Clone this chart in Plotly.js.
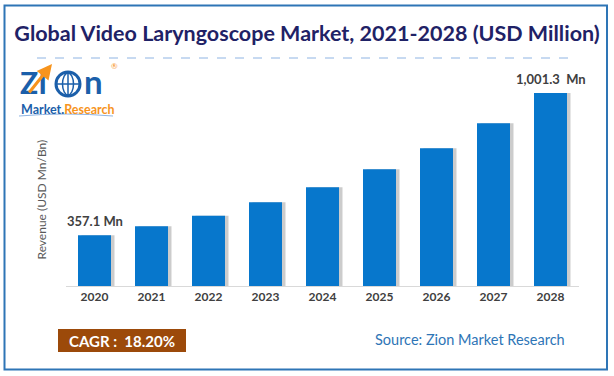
<!DOCTYPE html>
<html>
<head>
<meta charset="utf-8">
<script src="https://cdn.plot.ly/plotly-3.0.1.min.js"></script>
<style>html,body{margin:0;padding:0;background:#fff;}#chart{width:614px;height:376px;}</style>
</head>
<body>
<div id="chart"></div>
<script>
// ---- data ----
const years = ['2020','2021','2022','2023','2024','2025','2026','2027','2028'];
const revenue = [357.1, 397.9, 445.9, 506.5, 574.4, 655.9, 751.0, 864.1, 1001.3];
const labelYears = ['2020', '2028'];
const labelTexts = ['357.1 Mn', '1,001.3&nbsp; Mn'];
const labelValues = [357.1, 1001.3];

// ---- layout helpers (pixel -> paper) ----
const W = 614, H = 376;
const M = {l: 66, r: 35, t: 80, b: 90};
const PW = W - M.l - M.r, PH = H - M.t - M.b;
const px = x => (x - M.l) / PW;
const py = y => (H - M.b - y) / PH;
const CAT = PW / years.length;          // pixels per category
const BARW = 33 / CAT;                   // bar width in category units

const FONT = 'Lato, "Open Sans", sans-serif';
const BLUE = '#1b5faa', ORANGE = '#f7941d';

const shadow = {
  type: 'bar', x: years, y: revenue,
  width: BARW, offset: -BARW / 2 + 3.5 / CAT,
  marker: {color: 'rgba(110,110,110,0.35)'},
  hoverinfo: 'skip'
};
const trace = {
  type: 'bar', x: years, y: revenue,
  width: BARW, offset: -BARW / 2,
  marker: {color: '#0777cc'},
  hoverinfo: 'x+y'
};

const annotations = [];
labelYears.forEach((yr, i) => {
  annotations.push({
    x: years.indexOf(yr), y: labelValues[i], xref: 'x', yref: 'y',
    text: labelTexts[i], showarrow: false, yanchor: 'bottom', yshift: 4,
    font: {family: FONT, size: 13, color: '#404040', weight: 'bold'}
  });
});
// y-axis title
annotations.push({
  xref: 'paper', yref: 'paper', x: px(40.5), y: py(200),
  text: 'Revenue (USD Mn/Bn)', textangle: -90, showarrow: false,
  xanchor: 'center', yanchor: 'middle',
  font: {family: FONT, size: 12, color: '#595959'}
});
// CAGR
annotations.push({
  xref: 'paper', yref: 'paper', x: px(122), y: py(341),
  text: 'CAGR :&nbsp; 18.20%', showarrow: false, xanchor: 'center', yanchor: 'middle',
  font: {family: FONT, size: 15, color: '#ffffff', weight: 'bold'}
});
// Source
annotations.push({
  xref: 'paper', yref: 'paper', x: px(469.5), y: py(339),
  text: 'Source: Zion Market Research', showarrow: false, xanchor: 'center', yanchor: 'middle',
  font: {family: FONT, size: 14.5, color: '#2e75b6'}
});
// Logo pieces
annotations.push({
  xref: 'paper', yref: 'paper', x: px(18), y: py(82),
  text: 'ZI', showarrow: false, xanchor: 'left', yanchor: 'middle',
  font: {family: FONT, size: 30, color: BLUE, weight: 'bold'}
});
annotations.push({
  xref: 'paper', yref: 'paper', x: px(82), y: py(81),
  text: 'n', showarrow: false, xanchor: 'left', yanchor: 'middle',
  font: {family: FONT, size: 33, color: BLUE, weight: 'bold'}
});
annotations.push({
  xref: 'paper', yref: 'paper', x: px(114), y: py(66),
  text: '®', showarrow: false, xanchor: 'center', yanchor: 'middle',
  font: {family: FONT, size: 8, color: ORANGE}
});
annotations.push({
  xref: 'paper', yref: 'paper', x: px(52), y: py(64),
  ax: -24, ay: 30, text: '', showarrow: true, arrowhead: 2, arrowsize: 1,
  arrowwidth: 3, arrowcolor: ORANGE
});
annotations.push({
  xref: 'paper', yref: 'paper', x: px(19), y: py(109),
  text: "<span style='color:" + BLUE + "'>Market</span>.<span style='color:" + ORANGE + "'>Research</span>",
  showarrow: false, xanchor: 'left', yanchor: 'middle',
  font: {family: FONT, size: 12.5, color: BLUE, weight: 'bold'}
});

const shapes = [
  // outer border
  {type: 'rect', xref: 'paper', yref: 'paper', x0: px(4.5), x1: px(607), y0: py(5.5), y1: py(369.5),
   line: {color: '#2e75b6', width: 2}, fillcolor: 'rgba(0,0,0,0)', layer: 'below'},
  // dashed line under title
  {type: 'line', xref: 'paper', yref: 'paper', x0: px(37), x1: px(570), y0: py(58), y1: py(58),
   line: {color: '#8fb4e3', width: 1, dash: 'dash'}},
  // CAGR box
  {type: 'rect', xref: 'paper', yref: 'paper', x0: px(58), x1: px(186), y0: py(329), y1: py(352),
   line: {width: 0}, fillcolor: '#9c4a0a', layer: 'below'},
  // globe
  {type: 'circle', xref: 'paper', yref: 'paper', x0: px(56), x1: px(80), y0: py(72), y1: py(96),
   line: {color: BLUE, width: 3}, fillcolor: '#ffffff'},
  {type: 'circle', xref: 'paper', yref: 'paper', x0: px(62.5), x1: px(73.5), y0: py(73), y1: py(95),
   line: {color: BLUE, width: 1.5}},
  {type: 'line', xref: 'paper', yref: 'paper', x0: px(57), x1: px(79), y0: py(84), y1: py(84),
   line: {color: BLUE, width: 1.5}},
  {type: 'line', xref: 'paper', yref: 'paper', x0: px(68), x1: px(68), y0: py(73), y1: py(95),
   line: {color: BLUE, width: 1.5}},
  // underline under Market.Research
  {type: 'path', xref: 'paper', yref: 'paper',
   path: 'M' + px(19) + ',' + py(116) + ' Q' + px(66) + ',' + py(112) + ' ' + px(113) + ',' + py(116),
   line: {color: '#8fb4e3', width: 1}}
];

const layout = {
  width: W, height: H,
  margin: {l: M.l, r: M.r, t: M.t, b: M.b, pad: 0},
  paper_bgcolor: '#ffffff', plot_bgcolor: '#ffffff',
  showlegend: false,
  barmode: 'overlay',
  title: {
    text: 'Global Video Laryngoscope Market, 2021-2028 (USD Million)',
    x: 0.5, xref: 'container', xanchor: 'center',
    y: 1 - 33 / H, yref: 'container', yanchor: 'middle',
    font: {family: FONT, size: 21.5, color: '#1f2266', weight: 'bold'}
  },
  xaxis: {
    type: 'category',
    categoryorder: 'array', categoryarray: years,
    range: [-0.5, years.length - 0.5], autorange: false,
    showline: true, linecolor: '#d9d9d9', linewidth: 1,
    ticks: '', showgrid: false, zeroline: false,
    tickfont: {family: FONT, size: 12, color: '#404040', weight: 'bold'},
    fixedrange: true
  },
  yaxis: {
    range: [127.6, 1060], autorange: false,
    showticklabels: false, showgrid: false, zeroline: false, showline: false, ticks: '',
    fixedrange: true
  },
  annotations: annotations,
  shapes: shapes
};

Plotly.newPlot('chart', [shadow, trace], layout, {displayModeBar: false, staticPlot: true});
</script>
</body>
</html>
